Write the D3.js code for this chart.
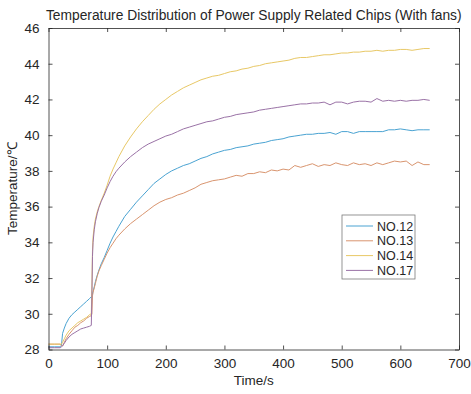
<!DOCTYPE html>
<html lang="en">
<head>
<meta charset="UTF-8">
<title>Temperature Distribution of Power Supply Related Chips</title>
<script src="https://d3js.org/d3.v7.min.js"></script>
<style>
    body, html {
        margin: 0;
        padding: 0;
        background: #fff;
        overflow: hidden;
    }
    svg text {
        font-family: 'Liberation Sans', Arial, sans-serif;
        fill: #262626;
    }
</style>
</head>
<body>
<svg id="chart" width="471" height="394"></svg>
<script>
// sample times (s), shared by all chips
const times = [0, 10, 20, 22, 24, 27, 30, 35, 40, 45, 50, 55, 60, 65, 70, 73, 74, 75, 76, 78, 80, 83, 86, 90, 95,
    100, 105, 110, 115, 120, 130, 140, 150, 160, 170, 180, 190, 200, 210, 220, 230, 240, 250, 260, 270, 280, 290,
    300, 310, 320, 330, 340, 350, 360, 370, 380, 390, 400, 410, 420, 430, 440, 450, 460, 470, 480, 490, 500, 510,
    520, 530, 540, 550, 560, 570, 580, 590, 600, 610, 620, 630, 640, 650];

const no12 = [28.15, 28.15, 28.15, 28.2, 28.9, 29.2, 29.45, 29.75, 29.95, 30.1, 30.25, 30.4, 30.55, 30.7, 30.85, 30.95, 31.0, 31.1, 31.25, 31.5, 31.8, 32.15, 32.45, 32.8, 33.15,
    33.55, 33.95, 34.3, 34.6, 34.9, 35.45, 35.85, 36.25, 36.6, 36.95, 37.3, 37.55, 37.8, 38.0, 38.15, 38.3, 38.4, 38.55, 38.7, 38.8, 38.95, 39.05,
    39.15, 39.2, 39.3, 39.35, 39.4, 39.5, 39.55, 39.6, 39.7, 39.75, 39.8, 39.9, 39.95, 40.0, 40.05, 40.05, 40.1, 40.1, 40.15, 40.05, 40.2, 40.2,
    40.1, 40.2, 40.2, 40.2, 40.2, 40.2, 40.3, 40.3, 40.35, 40.3, 40.25, 40.3, 40.3, 40.3];

const no13 = [28.3, 28.3, 28.3, 28.2, 28.2, 28.4, 28.6, 28.85, 29.05, 29.25, 29.35, 29.5, 29.6, 29.75, 29.85, 29.9, 30.0, 31.0, 31.2, 31.45, 31.7, 32.1, 32.4, 32.7, 33.05,
    33.4, 33.7, 33.95, 34.2, 34.4, 34.75, 35.05, 35.3, 35.55, 35.8, 36.05, 36.25, 36.4, 36.5, 36.65, 36.75, 36.9, 37.05, 37.25, 37.35, 37.45, 37.5,
    37.55, 37.65, 37.75, 37.7, 37.85, 37.85, 37.95, 37.9, 38.05, 38.0, 38.1, 38.05, 38.3, 38.2, 38.3, 38.4, 38.25, 38.35, 38.3, 38.45, 38.35, 38.3,
    38.45, 38.35, 38.4, 38.3, 38.45, 38.35, 38.45, 38.55, 38.5, 38.55, 38.3, 38.5, 38.35, 38.35];

const no14 = [28.3, 28.3, 28.3, 28.3, 28.4, 28.6, 28.8, 29.05, 29.2, 29.35, 29.5, 29.6, 29.7, 29.8, 29.95, 30.0, 31.5, 33.5, 34.3, 34.9, 35.3, 35.7, 36.0, 36.35, 36.75,
    37.2, 37.7, 38.1, 38.45, 38.8, 39.4, 39.9, 40.35, 40.75, 41.1, 41.45, 41.75, 42.0, 42.25, 42.45, 42.65, 42.8, 42.95, 43.1, 43.2, 43.3, 43.35,
    43.45, 43.55, 43.6, 43.7, 43.75, 43.85, 43.9, 44.0, 44.05, 44.1, 44.15, 44.2, 44.3, 44.35, 44.35, 44.4, 44.45, 44.5, 44.5, 44.55, 44.6, 44.6,
    44.65, 44.65, 44.7, 44.7, 44.75, 44.7, 44.75, 44.75, 44.8, 44.8, 44.75, 44.8, 44.85, 44.85];

const no17 = [28.1, 28.1, 28.1, 28.15, 28.2, 28.35, 28.5, 28.7, 28.85, 28.95, 29.05, 29.15, 29.2, 29.25, 29.3, 29.35, 31.0, 33.2, 34.0, 34.7, 35.15, 35.6, 35.95, 36.3, 36.65,
    37.05, 37.4, 37.7, 37.95, 38.15, 38.5, 38.8, 39.05, 39.3, 39.5, 39.65, 39.8, 39.95, 40.05, 40.2, 40.35, 40.45, 40.55, 40.65, 40.75, 40.8, 40.9,
    41.0, 41.05, 41.15, 41.2, 41.25, 41.3, 41.4, 41.45, 41.5, 41.55, 41.6, 41.65, 41.7, 41.75, 41.75, 41.8, 41.8, 41.85, 41.7, 41.85, 41.85, 41.75,
    41.85, 41.9, 41.9, 41.85, 42.05, 41.9, 41.95, 41.9, 41.95, 41.9, 41.95, 41.95, 42.0, 41.95];

const seriesNames = ["NO.12", "NO.13", "NO.14", "NO.17"];
const seriesColors = ["#4aa3d2", "#d9956f", "#e8c866", "#9a72a6"];
const xTicks = [0, 100, 200, 300, 400, 500, 600, 700];
const yTicks = [28, 30, 32, 34, 36, 38, 40, 42, 44, 46];

const svg = d3.select("#chart");
const W = 471, H = 394;
const margin = {left: 48.5, right: 12, top: 28, bottom: 44.5};
const x = d3.scaleLinear().domain([0, 700]).range([margin.left, W - margin.right]);
const y = d3.scaleLinear().domain([28, 46]).range([H - margin.bottom, margin.top]);

svg.append("rect").attr("width", W).attr("height", H).attr("fill", "#fff");

// title
svg.append("text")
    .attr("x", (x(0) + x(700)) / 2)
    .attr("y", 20)
    .attr("text-anchor", "middle")
    .style("font-size", "13.8px")
    .text("Temperature Distribution of Power Supply Related Chips (With fans)");

// data lines
const allSeries = [no12, no13, no14, no17];
const line = d3.line()
    .x((d, i) => x(times[i]))
    .y(d => y(d));

allSeries.forEach((vals, k) => {
    svg.append("path")
        .datum(vals)
        .attr("fill", "none")
        .attr("stroke", seriesColors[k])
        .attr("stroke-width", 1)
        .attr("d", line);
});

// axes, MATLAB-style box with inward ticks
const tickLen = 4;
const axisColor = "#262626";
const g = svg.append("g");

g.append("g")
    .attr("transform", `translate(0,${y(28)})`)
    .call(d3.axisBottom(x).tickValues(xTicks).tickSizeInner(-tickLen).tickSizeOuter(0).tickPadding(9));
g.append("g")
    .attr("transform", `translate(0,${y(46)})`)
    .call(d3.axisTop(x).tickValues(xTicks).tickSizeInner(-tickLen).tickSizeOuter(0).tickFormat(""));
g.append("g")
    .attr("transform", `translate(${x(0)},0)`)
    .call(d3.axisLeft(y).tickValues(yTicks).tickSizeInner(-tickLen).tickSizeOuter(0).tickPadding(9));
g.append("g")
    .attr("transform", `translate(${x(700)},0)`)
    .call(d3.axisRight(y).tickValues(yTicks).tickSizeInner(-tickLen).tickSizeOuter(0).tickFormat(""));

g.selectAll(".domain").attr("stroke", axisColor).attr("stroke-width", 0.8);
g.selectAll(".tick line").attr("stroke", axisColor).attr("stroke-width", 0.8);
g.selectAll(".tick text")
    .style("font-size", "13.5px")
    .style("font-family", "'Liberation Sans', Arial, sans-serif")
    .attr("fill", axisColor);

// axis labels
svg.append("text")
    .attr("x", (x(0) + x(700)) / 2)
    .attr("y", 385)
    .attr("text-anchor", "middle")
    .style("font-size", "13.5px")
    .text("Time/s");

svg.append("text")
    .attr("transform", `translate(17,${(y(28) + y(46)) / 2}) rotate(-90)`)
    .attr("text-anchor", "middle")
    .style("font-size", "13.5px")
    .text("Temperature/\u2103");

// legend
const legend = svg.append("g").attr("transform", "translate(342,215)");
legend.append("rect")
    .attr("width", 73).attr("height", 64)
    .attr("fill", "#fff")
    .attr("stroke", "#7a7a7a")
    .attr("stroke-width", 0.8);

seriesNames.forEach((name, k) => {
    const ly = 11 + k * 14.8;
    legend.append("line")
        .attr("x1", 4).attr("x2", 31)
        .attr("y1", ly).attr("y2", ly)
        .attr("stroke", seriesColors[k])
        .attr("stroke-width", 1);
    legend.append("text")
        .attr("x", 35).attr("y", ly + 4.5)
        .style("font-size", "12.5px")
        .text(name);
});
</script>
</body>
</html>
